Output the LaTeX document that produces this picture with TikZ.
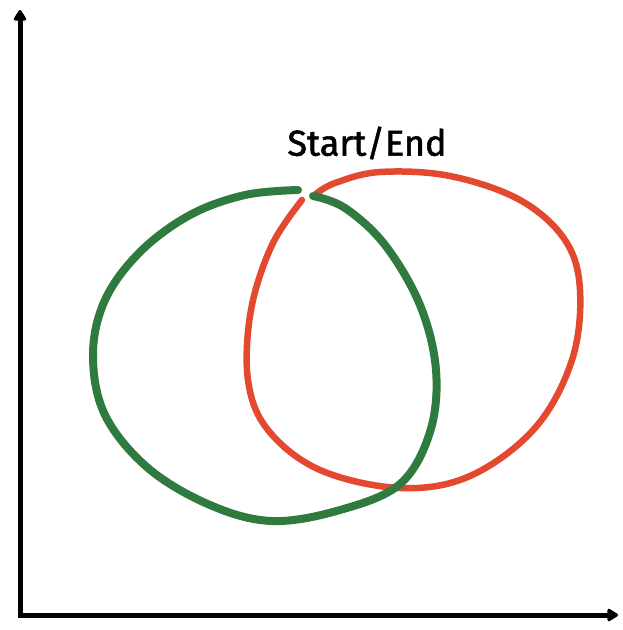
\documentclass[tikz,border=0pt]{standalone}
\usepackage{fontspec}
\setmainfont{Fira Sans}
\usetikzlibrary{arrows.meta}
\definecolor{gcurve}{HTML}{2F7A3E}
\definecolor{rcurve}{HTML}{E2492F}
\begin{document}
\begin{tikzpicture}[x=1pt,y=-1pt,
  axis/.style={line width=5pt,-{Triangle[width=14pt,length=12pt,round]}},
  gline/.style={gcurve,line width=8pt,line cap=round},
  rline/.style={rcurve,line width=6.5pt,line cap=round}]
\useasboundingbox (0,0) rectangle (623,630);
\coordinate (o) at (20,615);
\coordinate (ytop) at (20,10);
\coordinate (xend) at (618,615);
\draw[axis] (o) -- (ytop);
\draw[axis] ([xshift=-2.5pt]o) -- (xend);
\node[font=\fontsize{36}{38}\selectfont\addfontfeature{FakeBold=1.5}] (lbl) at (367,143) {Start/End};
\draw[rline] plot[smooth,tension=0.6] coordinates {(302,200) (272,245) (251,310) (248,380) (268,430) (320,470) (400,488) (470,476) (535,428) (572,360) (580,290) (565,240) (520,200) (450,176) (380,172) (335,183) (316,194)};
\draw[gline] plot[smooth,tension=0.6] coordinates {(298,190) (245,195) (190,215) (140,252) (105,300) (93,355) (105,415) (148,468) (210,505) (272,521) (340,510) (400,484) (430,432) (436,370) (420,305) (385,245) (345,208) (313,196)};
\end{tikzpicture}
\end{document}
